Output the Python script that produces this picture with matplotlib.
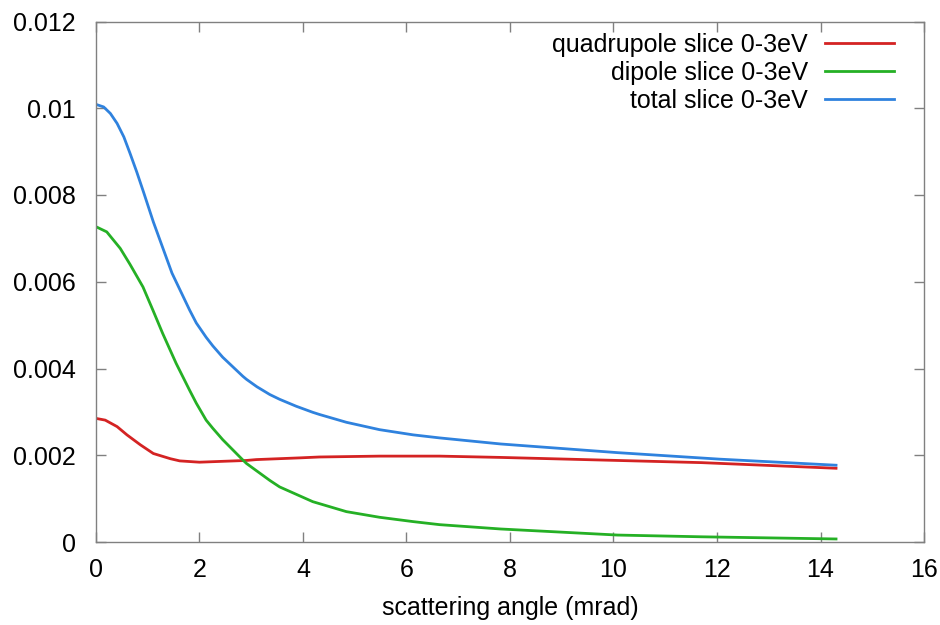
import matplotlib
matplotlib.use('Agg')
import matplotlib.pyplot as plt

plt.rcParams['font.family'] = ['Liberation Sans', 'DejaVu Sans']

# values (angle in mrad, signal in units of 1e-3)
total_x = [0.0, 0.15, 0.28, 0.41, 0.54, 0.66, 0.79, 0.92, 1.11, 1.47, 1.81, 1.94, 2.13, 2.26,
           2.45, 2.84, 2.91, 3.11, 3.36, 3.55, 3.87, 4.19, 4.32, 4.84, 5.48, 6.13, 6.64, 7.82,
           10.08, 12.05, 14.3]
total_y = [10.09, 10.03, 9.88, 9.65, 9.34, 8.96, 8.53, 8.07, 7.38, 6.20, 5.35, 5.05, 4.72, 4.52,
           4.26, 3.82, 3.75, 3.58, 3.40, 3.29, 3.13, 2.99, 2.94, 2.76, 2.59, 2.47, 2.40, 2.26,
           2.06, 1.91, 1.77]

quad_x = [0.0, 0.18, 0.41, 0.60, 0.86, 1.11, 1.44, 1.62, 2.00, 2.45, 2.91, 3.10, 3.95, 4.32,
          5.48, 6.64, 7.82, 10.08, 11.7, 14.3]
quad_y = [2.85, 2.81, 2.66, 2.47, 2.24, 2.04, 1.92, 1.87, 1.84, 1.86, 1.88, 1.90, 1.94, 1.96,
          1.98, 1.98, 1.95, 1.88, 1.83, 1.70]

dip_x = [0.0, 0.21, 0.47, 0.66, 0.91, 1.10, 1.29, 1.55, 1.81, 1.94, 2.13, 2.26, 2.45, 2.84,
         2.91, 3.36, 3.55, 4.19, 4.84, 5.48, 6.13, 6.64, 7.82, 10.08, 11.7, 14.3]
dip_y = [7.27, 7.15, 6.77, 6.40, 5.88, 5.35, 4.81, 4.12, 3.50, 3.20, 2.81, 2.62, 2.36, 1.89,
         1.81, 1.42, 1.27, 0.93, 0.70, 0.57, 0.47, 0.40, 0.30, 0.16, 0.12, 0.07]

scale = 1e-3

fig = plt.figure(figsize=(9.4, 6.25), dpi=100)
ax = fig.add_axes([0.102, 0.1328, 0.881, 0.8328])

ax.plot(quad_x, [v * scale for v in quad_y], color='#d42323', lw=2, label='quadrupole slice 0-3eV')
ax.plot(dip_x, [v * scale for v in dip_y], color='#25b025', lw=2, label='dipole slice 0-3eV')
ax.plot(total_x, [v * scale for v in total_y], color='#2f82de', lw=2, label='total slice 0-3eV')

ax.set_xlim(0, 16)
ax.set_ylim(0, 0.012)
ax.set_xticks(range(0, 17, 2))
ax.set_yticks([0, 0.002, 0.004, 0.006, 0.008, 0.01, 0.012])
ax.set_yticklabels(['0', '0.002', '0.004', '0.006', '0.008', '0.01', '0.012'])

for s in ax.spines.values():
    s.set_color('#808080')
    s.set_linewidth(1)
ax.tick_params(direction='in', length=7, width=1, color='#808080',
               top=True, right=True, labelsize=18)
ax.tick_params(axis='y', pad=14.5)
ax.tick_params(axis='x', pad=11.5)

ax.set_xlabel('scattering angle (mrad)', fontsize=18, labelpad=10)

ax.legend(loc='upper right', bbox_to_anchor=(0.964, 0.967), bbox_transform=fig.transFigure,
          frameon=False, markerfirst=False, fontsize=18, handlelength=2.76,
          handletextpad=0.68, labelspacing=0.16, borderpad=0)

fig.savefig('out.png', dpi=100)
